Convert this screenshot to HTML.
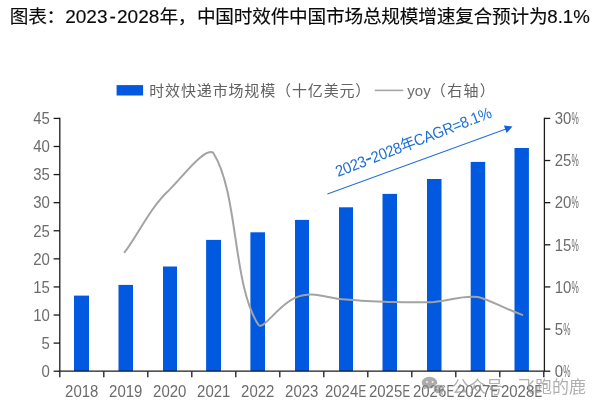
<!DOCTYPE html>
<html lang="zh-CN"><head><meta charset="utf-8"><title>图表</title>
<style>
html,body{margin:0;padding:0;background:#fff;}
body{width:603px;height:419px;overflow:hidden;position:relative;}
svg{display:block;position:absolute;left:0;top:0;}
.t{font-family:"Liberation Sans","Noto Sans CJK SC",sans-serif;}
.ax{font-family:"Liberation Sans","Noto Sans CJK SC",sans-serif;font-size:16px;fill:#6c6c6c;}
.lg{font-family:"Liberation Sans","Noto Sans CJK SC",sans-serif;font-weight:400;fill:#626262;}
</style></head><body>
<svg width="603" height="419" viewBox="0 0 603 419">
<rect width="603" height="419" fill="#fff"/>
<text class="t" y="23.4" font-size="18.67" fill="#0a0a0a" stroke="#0a0a0a" stroke-width="0.14"><tspan x="9.7" letter-spacing="-0.21">图表：</tspan><tspan x="65.2" font-size="19">2023</tspan><tspan x="109.4" font-size="19">-</tspan><tspan x="117.0" font-size="19">2028</tspan><tspan x="159.4" letter-spacing="-0.21">年，</tspan><tspan x="196.9" letter-spacing="-0.21">中国时效件中国市场总规模增速复合预计为</tspan><tspan x="547.3" font-size="18.67">8.1%</tspan></text>
<rect x="116.6" y="85.1" width="26.5" height="10.4" fill="#0059de"/>
<text class="lg" x="149.2" y="96.0" font-size="15" letter-spacing="0.86">时效快递市场规模（十亿美元）</text>
<line x1="374.8" y1="90.4" x2="403.3" y2="90.4" stroke="#a6a6a6" stroke-width="1.6"/>
<text class="lg" x="407.3" y="96.0" font-size="15"><tspan font-size="15" fill="#6e6e6e">yoy</tspan><tspan letter-spacing="1.3" dx="0.2">（右轴）</tspan></text>
<rect x="74.00" y="295.60" width="15.00" height="75.60" fill="#0059de"/>
<rect x="118.50" y="284.90" width="14.50" height="86.30" fill="#0059de"/>
<rect x="163.00" y="266.50" width="14.00" height="104.70" fill="#0059de"/>
<rect x="206.10" y="239.90" width="14.90" height="131.30" fill="#0059de"/>
<rect x="250.40" y="232.30" width="14.60" height="138.90" fill="#0059de"/>
<rect x="295.00" y="219.90" width="14.00" height="151.30" fill="#0059de"/>
<rect x="339.00" y="207.30" width="14.00" height="163.90" fill="#0059de"/>
<rect x="382.50" y="193.90" width="14.50" height="177.30" fill="#0059de"/>
<rect x="427.00" y="179.00" width="14.50" height="192.20" fill="#0059de"/>
<rect x="470.70" y="161.90" width="14.50" height="209.30" fill="#0059de"/>
<rect x="514.50" y="148.00" width="14.40" height="223.20" fill="#0059de"/>
<g stroke="#1c1c1c" stroke-width="1.3" fill="none">
<path d="M59.8,117.7 V371.2 H544.4 V117.7"/>
<path d="M53.6,371.20 H60.0"/><path d="M53.6,343.11 H60.0"/><path d="M53.6,315.02 H60.0"/><path d="M53.6,286.93 H60.0"/><path d="M53.6,258.84 H60.0"/><path d="M53.6,230.76 H60.0"/><path d="M53.6,202.67 H60.0"/><path d="M53.6,174.58 H60.0"/><path d="M53.6,146.49 H60.0"/><path d="M53.6,118.40 H60.0"/>
<path d="M544.4,371.20 H550.3"/><path d="M544.4,329.07 H550.3"/><path d="M544.4,286.93 H550.3"/><path d="M544.4,244.80 H550.3"/><path d="M544.4,202.67 H550.3"/><path d="M544.4,160.53 H550.3"/><path d="M544.4,118.40 H550.3"/>
<path d="M59.80,371.2 V377.2"/><path d="M103.80,371.2 V377.2"/><path d="M147.80,371.2 V377.2"/><path d="M191.80,371.2 V377.2"/><path d="M235.80,371.2 V377.2"/><path d="M279.80,371.2 V377.2"/><path d="M323.80,371.2 V377.2"/><path d="M367.80,371.2 V377.2"/><path d="M411.80,371.2 V377.2"/><path d="M455.80,371.2 V377.2"/><path d="M499.80,371.2 V377.2"/><path d="M543.80,371.2 V377.2"/>
</g>
<text class="ax" transform="translate(49.80,377.00) scale(0.935,1)" text-anchor="end">0</text><text class="ax" transform="translate(49.80,348.91) scale(0.935,1)" text-anchor="end">5</text><text class="ax" transform="translate(49.80,320.82) scale(0.935,1)" text-anchor="end">10</text><text class="ax" transform="translate(49.80,292.73) scale(0.935,1)" text-anchor="end">15</text><text class="ax" transform="translate(49.80,264.64) scale(0.935,1)" text-anchor="end">20</text><text class="ax" transform="translate(49.80,236.56) scale(0.935,1)" text-anchor="end">25</text><text class="ax" transform="translate(49.80,208.47) scale(0.935,1)" text-anchor="end">30</text><text class="ax" transform="translate(49.80,180.38) scale(0.935,1)" text-anchor="end">35</text><text class="ax" transform="translate(49.80,152.29) scale(0.935,1)" text-anchor="end">40</text><text class="ax" transform="translate(49.80,124.20) scale(0.935,1)" text-anchor="end">45</text>
<text class="ax" transform="translate(554.70,377.00) scale(0.935,1)" text-anchor="start">0</text><text class="ax" transform="translate(563.22,377.00) scale(0.510,1)" text-anchor="start">%</text><text class="ax" transform="translate(554.70,334.87) scale(0.935,1)" text-anchor="start">5</text><text class="ax" transform="translate(563.22,334.87) scale(0.510,1)" text-anchor="start">%</text><text class="ax" transform="translate(554.70,292.73) scale(0.935,1)" text-anchor="start">10</text><text class="ax" transform="translate(571.54,292.73) scale(0.510,1)" text-anchor="start">%</text><text class="ax" transform="translate(554.70,250.60) scale(0.935,1)" text-anchor="start">15</text><text class="ax" transform="translate(571.54,250.60) scale(0.510,1)" text-anchor="start">%</text><text class="ax" transform="translate(554.70,208.47) scale(0.935,1)" text-anchor="start">20</text><text class="ax" transform="translate(571.54,208.47) scale(0.510,1)" text-anchor="start">%</text><text class="ax" transform="translate(554.70,166.33) scale(0.935,1)" text-anchor="start">25</text><text class="ax" transform="translate(571.54,166.33) scale(0.510,1)" text-anchor="start">%</text><text class="ax" transform="translate(554.70,124.20) scale(0.935,1)" text-anchor="start">30</text><text class="ax" transform="translate(571.54,124.20) scale(0.510,1)" text-anchor="start">%</text>
<text class="ax" transform="translate(81.70,397.10) scale(0.935,1)" text-anchor="middle">2018</text><text class="ax" transform="translate(125.70,397.10) scale(0.935,1)" text-anchor="middle">2019</text><text class="ax" transform="translate(169.70,397.10) scale(0.935,1)" text-anchor="middle">2020</text><text class="ax" transform="translate(213.70,397.10) scale(0.935,1)" text-anchor="middle">2021</text><text class="ax" transform="translate(257.70,397.10) scale(0.935,1)" text-anchor="middle">2022</text><text class="ax" transform="translate(301.70,397.10) scale(0.935,1)" text-anchor="middle">2023</text><text class="ax" transform="translate(325.00,397.10) scale(0.935,1)" text-anchor="start">2024</text><text class="ax" transform="translate(358.40,397.10) scale(0.720,1)" text-anchor="start">E</text><text class="ax" transform="translate(369.00,397.10) scale(0.935,1)" text-anchor="start">2025</text><text class="ax" transform="translate(402.40,397.10) scale(0.720,1)" text-anchor="start">E</text><text class="ax" transform="translate(413.00,397.10) scale(0.935,1)" text-anchor="start">2026</text><text class="ax" transform="translate(446.40,397.10) scale(0.720,1)" text-anchor="start">E</text><text class="ax" transform="translate(457.00,397.10) scale(0.935,1)" text-anchor="start">2027</text><text class="ax" transform="translate(490.40,397.10) scale(0.720,1)" text-anchor="start">E</text><text class="ax" transform="translate(501.00,397.10) scale(0.935,1)" text-anchor="start">2028</text><text class="ax" transform="translate(534.40,397.10) scale(0.720,1)" text-anchor="start">E</text>
<path d="M124.7,252.2 C136.6,237.0 151.2,205.8 169.3,189.9 C185.2,173.6 204.8,147.6 213.2,152.7 C238.7,193.0 232.2,284.8 258.4,324.8 C263.2,331.7 280.5,300.1 302.0,295.6 C318.2,292.1 326.6,298.4 346.0,299.5 C358.9,300.8 376.0,301.4 390.0,302.0 C404.6,302.3 419.3,302.7 434.0,301.9 C450.7,300.6 461.0,295.2 478.0,297.0 C492.3,300.9 504.9,308.9 522.2,314.9" fill="none" stroke="#a3a3a3" stroke-width="2" stroke-linecap="round" stroke-linejoin="round"/>
<line x1="327.4" y1="194" x2="506" y2="129.0" stroke="#2470d8" stroke-width="1.05"/>
<polygon points="512.5,126.6 503.9,125.5 506.6,133.0" fill="#1560d8"/>
<text class="t" transform="translate(338.0,177.0) rotate(-21.2) scale(1,1.08)" font-size="14.67" fill="#1f6fd6" letter-spacing="-0.28">2023<tspan font-size="21" dy="0.4">-</tspan><tspan dy="-0.4">2028年CAGR=8.1%</tspan></text>
<g opacity="0.68">
<ellipse cx="429.5" cy="382.7" rx="7.8" ry="5.9" fill="#858585"/><path d="M424.5,386.5 L423.6,389.6 L427.6,388 Z" fill="#858585"/>
<ellipse cx="438.9" cy="389.0" rx="5.8" ry="4.8" fill="#858585" stroke="#fff" stroke-width="0.9"/><path d="M442,392.6 L443.6,395 L439.6,393.6 Z" fill="#858585"/>
<circle cx="427.0" cy="381.9" r="0.95" fill="#fff"/><circle cx="432.6" cy="381.9" r="0.95" fill="#fff"/><circle cx="437.0" cy="388.2" r="0.7" fill="#fff"/><circle cx="441.0" cy="388.2" r="0.7" fill="#fff"/>
<text class="t" x="452" y="393" font-size="17" fill="#8a8a8a">公众号 · 飞跑的鹿</text>
</g>
</svg>
</body></html>
